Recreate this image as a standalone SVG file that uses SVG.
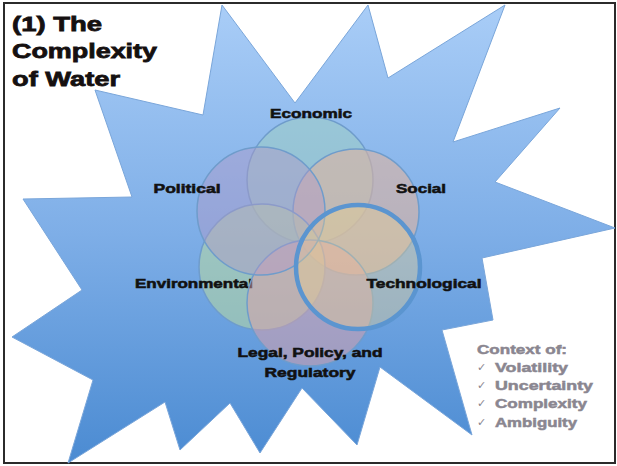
<svg xmlns="http://www.w3.org/2000/svg" width="617" height="466" viewBox="0 0 617 466">
<defs>
<linearGradient id="starGrad" gradientUnits="userSpaceOnUse" x1="0" y1="5" x2="0" y2="463">
<stop offset="0" stop-color="#a9cdf7"/>
<stop offset="0.5" stop-color="#7eaee7"/>
<stop offset="1" stop-color="#4b8bd2"/>
</linearGradient>
<style>
.lbl{font-family:"Liberation Sans",Arial,sans-serif;font-weight:bold;font-size:13px;fill:#111;stroke:#111;stroke-width:0.55px;}
.ttl{font-family:"Liberation Sans",Arial,sans-serif;font-weight:bold;font-size:21px;fill:#151010;stroke:#151010;stroke-width:0.8px;}
.ctx{font-family:"Liberation Sans",Arial,sans-serif;font-weight:bold;font-size:13px;fill:#8a8690;stroke:#8a8690;stroke-width:0.5px;}
.chk{font-family:"DejaVu Sans",sans-serif;font-size:11px;fill:#8a8690;}
.ring{stroke:#6f9ccb;stroke-width:1.5;}
</style>
</defs>
<rect x="0" y="0" width="617" height="466" fill="#ffffff"/>
<rect x="4" y="3" width="611" height="460" fill="none" stroke="#2b2b2b" stroke-width="2"/>

<polygon points="222,5 295,103 368,5 388,78 505,5 453,142 560,108 495,182 615,228 482,258 493,320 442,330 472,435 380,367 357,445 302,388 260,453 230,403 180,450 165,402 68,463 93,380 12,337 82,290 23,199 132,197 95,90 203,115" fill="url(#starGrad)" stroke="#7aa6da" stroke-width="1"/>

<g id="title">
<text class="ttl" x="12" y="31" textLength="90" lengthAdjust="spacingAndGlyphs">(1) The</text>
<text class="ttl" x="12" y="58" textLength="145" lengthAdjust="spacingAndGlyphs">Complexity</text>
<text class="ttl" x="12" y="86" textLength="108" lengthAdjust="spacingAndGlyphs">of Water</text>
</g>

<g id="connectors"/>

<g id="economic">
<circle class="ring" cx="310" cy="180" r="63" fill="#a0d0c0" fill-opacity="0.5"/>
<text class="lbl" x="311" y="118" text-anchor="middle" textLength="82" lengthAdjust="spacingAndGlyphs">Economic</text>
</g>
<g id="social">
<circle class="ring" cx="356" cy="212" r="63" fill="#e0b4a0" fill-opacity="0.6"/>
<text class="lbl" x="421" y="193" text-anchor="middle" textLength="50" lengthAdjust="spacingAndGlyphs">Social</text>
</g>
<g id="environmental">
<circle class="ring" cx="262" cy="267" r="63" fill="#b8d8a0" fill-opacity="0.55"/>
<text class="lbl" x="194" y="288" text-anchor="middle" textLength="118" lengthAdjust="spacingAndGlyphs">Environmental</text>
</g>
<g id="legal">
<circle class="ring" cx="310" cy="303" r="63" fill="#e0a0a8" fill-opacity="0.5"/>
<text class="lbl" x="310" y="357" text-anchor="middle" textLength="145" lengthAdjust="spacingAndGlyphs">Legal, Policy, and</text>
<text class="lbl" x="310" y="377" text-anchor="middle" textLength="91" lengthAdjust="spacingAndGlyphs">Regulatory</text>
</g>
<g id="political">
<circle class="ring" cx="261" cy="211" r="64" fill="#b098c8" fill-opacity="0.45"/>
<text class="lbl" x="187" y="193" text-anchor="middle" textLength="67" lengthAdjust="spacingAndGlyphs">Political</text>
</g>
<g id="technological">
<circle cx="358" cy="267" r="62" fill="#e8d090" fill-opacity="0.4" stroke="#5b95d0" stroke-width="4.5"/>
<text class="lbl" x="424" y="288" text-anchor="middle" textLength="115" lengthAdjust="spacingAndGlyphs">Technological</text>
</g>

<g id="context">
<text class="ctx" x="477" y="354" textLength="90" lengthAdjust="spacingAndGlyphs">Context of:</text>
<text class="chk" x="477" y="371">✓</text>
<text class="ctx" x="495" y="372" textLength="73" lengthAdjust="spacingAndGlyphs">Volatility</text>
<text class="chk" x="477" y="389">✓</text>
<text class="ctx" x="495" y="390" textLength="98" lengthAdjust="spacingAndGlyphs">Uncertainty</text>
<text class="chk" x="477" y="407">✓</text>
<text class="ctx" x="495" y="408" textLength="92" lengthAdjust="spacingAndGlyphs">Complexity</text>
<text class="chk" x="477" y="426">✓</text>
<text class="ctx" x="495" y="427" textLength="82" lengthAdjust="spacingAndGlyphs">Ambiguity</text>
</g>
</svg>
